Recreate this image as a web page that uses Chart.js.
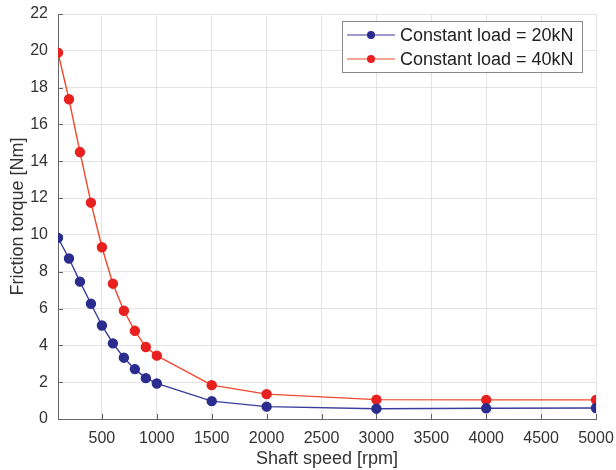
<!DOCTYPE html>
<html>
<head>
<meta charset="utf-8">
<script src="https://cdn.jsdelivr.net/npm/chart.js@4"></script>
<style>
    html,body{margin:0;padding:0;background:#fff;}
    #wrap{width:616px;height:470px;}
</style>
</head>
<body>
<div id="wrap"><canvas id="torqueChart" width="616" height="470"></canvas></div>
<script>

// ===============================
// Data
// ===============================

const shaftSpeed = [100,200,300,400,500,600,700,800,900,1000,1500,2000,3000,4000,5000];

const load20kN = [9.84,8.72,7.46,6.26,5.08,4.11,3.33,2.71,2.22,1.93,0.97,0.67,0.56,0.58,0.60];

const load40kN = [19.9,17.37,14.5,11.75,9.33,7.35,5.88,4.79,3.91,3.44,1.84,1.35,1.05,1.04,1.04];

const seriesNames = ["Constant load = 20kN","Constant load = 40kN"];

const xTicks = [500,1000,1500,2000,2500,3000,3500,4000,4500,5000];

const yTicks = [0,2,4,6,8,10,12,14,16,18,20,22];

const FONT = "'Liberation Sans', Arial, Helvetica, sans-serif";

const BLUE_LINE = "#3b3d9c";
const BLUE_DOT = "#2a2c8e";
const RED_LINE = "#f0482e";
const RED_DOT = "#e8201f";

function points(ys){
    return shaftSpeed.map((x,i)=>({x:x,y:ys[i]}));
}

// ===============================
// Inward tick marks + legend box
// ===============================

const matlabAxes = {
    id:"matlabAxes",
    beforeDatasetsDraw(chart){
        const c = chart.ctx;
        const xs = chart.scales.x;
        const ys = chart.scales.y;
        const a = chart.chartArea;
        c.save();
        c.strokeStyle = "#666";
        c.lineWidth = 1;
        c.beginPath();
        xs.ticks.forEach(t=>{
            const px = Math.round(xs.getPixelForValue(t.value))+0.5;
            c.moveTo(px,a.bottom);
            c.lineTo(px,a.bottom-5);
        });
        ys.ticks.forEach(t=>{
            const py = Math.round(ys.getPixelForValue(t.value))+0.5;
            c.moveTo(a.left,py);
            c.lineTo(a.left+5,py);
        });
        c.stroke();
        c.restore();
    },
    afterDraw(chart){
        const c = chart.ctx;
        const a = chart.chartArea;
        const boxR = a.right-14;
        const boxL = boxR-240;
        const boxT = a.top+7;
        const boxH = 51;
        const rows = [
            {name:seriesNames[0],line:BLUE_LINE,dot:BLUE_DOT},
            {name:seriesNames[1],line:RED_LINE,dot:RED_DOT}
        ];
        c.save();
        c.fillStyle = "#fff";
        c.fillRect(boxL,boxT,240,boxH);
        c.strokeStyle = "#8a8a8a";
        c.lineWidth = 1;
        c.strokeRect(boxL+0.5,boxT+0.5,240,boxH);
        rows.forEach((r,i)=>{
            const y = boxT+14+i*24;
            c.strokeStyle = r.line;
            c.lineWidth = 1.2;
            c.beginPath();
            c.moveTo(boxL+5,y);
            c.lineTo(boxL+53,y);
            c.stroke();
            c.fillStyle = r.dot;
            c.beginPath();
            c.arc(boxL+29,y,4,0,Math.PI*2);
            c.fill();
            c.fillStyle = "#222";
            c.font = "18px "+FONT;
            c.textBaseline = "middle";
            c.textAlign = "left";
            c.fillText(r.name,boxL+58,y+1);
        });
        c.restore();
    }
};

// ===============================
// Chart
// ===============================

const ctx = document.getElementById("torqueChart");

const chart = new Chart(ctx, {
    type:"line",
    data:{
        datasets:[
            {
                label:seriesNames[0],
                data:points(load20kN),
                borderColor:BLUE_LINE,
                backgroundColor:BLUE_DOT,
                pointBackgroundColor:BLUE_DOT,
                pointBorderColor:BLUE_DOT,
                pointRadius:4.5,
                borderWidth:1.4,
                tension:0
            },
            {
                label:seriesNames[1],
                data:points(load40kN),
                borderColor:RED_LINE,
                backgroundColor:RED_DOT,
                pointBackgroundColor:RED_DOT,
                pointBorderColor:RED_DOT,
                pointRadius:4.5,
                borderWidth:1.4,
                tension:0
            }
        ]
    },
    options:{
        responsive:false,
        animation:false,
        layout:{
            padding:{top:14,right:20,left:0,bottom:0}
        },
        plugins:{
            legend:{display:false},
            tooltip:{enabled:false}
        },
        scales:{
            x:{
                type:"linear",
                min:100,
                max:5000,
                afterBuildTicks:(s)=>{ s.ticks = xTicks.map(v=>({value:v})); },
                afterFit:(s)=>{ s.height = 51; s.paddingRight = 0; s.paddingLeft = 0; },
                grid:{color:"#e4e4e4",drawTicks:false},
                border:{color:"#666",width:1},
                ticks:{
                    color:"#333",
                    font:{family:FONT,size:16},
                    padding:10,
                    maxRotation:0,
                    autoSkip:false,
                    callback:(v)=>String(v)
                },
                title:{
                    display:true,
                    text:"Shaft speed [rpm]",
                    color:"#333",
                    font:{family:FONT,size:18},
                    padding:{top:1,bottom:0}
                }
            },
            y:{
                min:0,
                max:22,
                afterBuildTicks:(s)=>{ s.ticks = yTicks.map(v=>({value:v})); },
                afterFit:(s)=>{ s.width = 58; s.paddingTop = 0; s.paddingBottom = 0; },
                grid:{color:"#e4e4e4",drawTicks:false},
                border:{color:"#666",width:1},
                ticks:{
                    color:"#333",
                    font:{family:FONT,size:16},
                    padding:10
                },
                title:{
                    display:true,
                    text:"Friction torque [Nm]",
                    color:"#333",
                    font:{family:FONT,size:18},
                    padding:{top:7,bottom:0}
                }
            }
        }
    },
    plugins:[matlabAxes]
});

</script>
</body>
</html>
